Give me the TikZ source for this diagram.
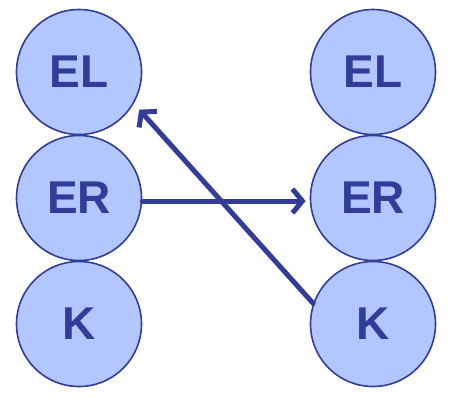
\documentclass[tikz,border=0pt]{standalone}
\usepackage{fontspec}
\setmainfont{Liberation Sans}
\usepackage{xcolor}
\definecolor{ringblue}{rgb}{0.2,0.24,0.6}
\definecolor{fillblue}{rgb}{0.7,0.78,1}
\usetikzlibrary{arrows.meta}
\tikzset{
    ball/.style = {circle, draw=ringblue, line width=1.6pt, fill=fillblue,
        minimum size=125pt, inner sep=0pt, text=ringblue,
        font=\fontsize{46}{46}\bfseries\selectfont},
    link/.style = {draw=ringblue, line width=5pt,
        -{Straight Barb[length=10pt, width=24pt, line width=5pt]}}
}
\begin{document}
\begin{tikzpicture}[x=1pt,y=-1pt,line cap=round,line join=round]
\useasboundingbox (0,0) rectangle (452,402);
\node[ball] (lel) at (79,72) {EL};
\node[ball] (ler) at (79,198) {ER};
\node[ball] (lk) at (79,324) {K};
\node[ball] (rel) at (373,72) {EL};
\node[ball] (rer) at (373,198) {ER};
\node[ball] (rk) at (373,324) {K};
\draw [link, shorten >=4pt] ([yshift=-3pt]ler.east) -- ([yshift=-3pt]rer.west);
\draw [link, shorten >=8pt] (rk.161) -- (lel.-30);
\end{tikzpicture}
\end{document}
